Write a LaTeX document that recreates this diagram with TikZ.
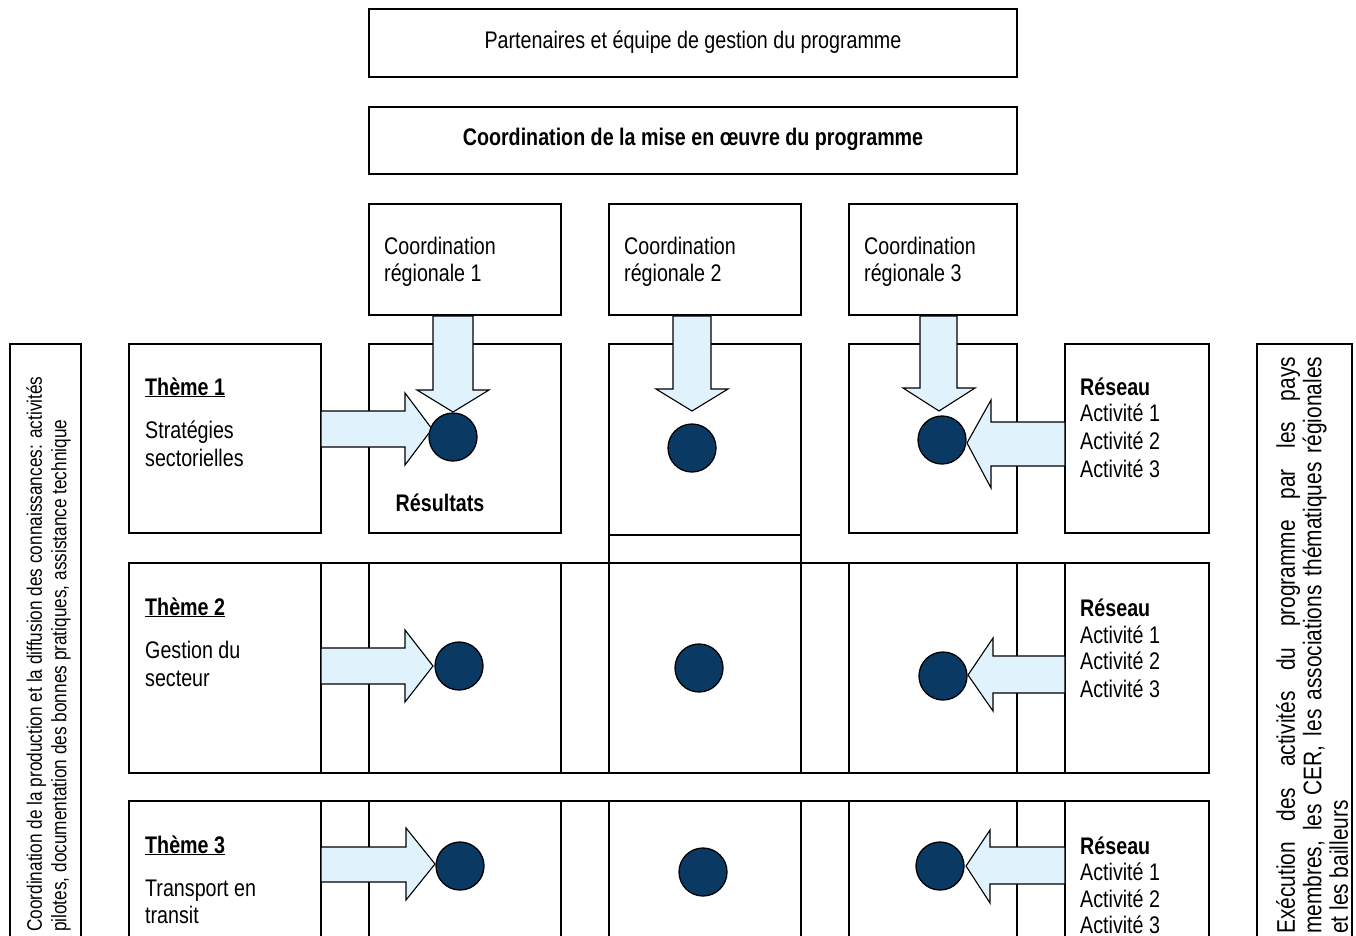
\documentclass[tikz,border=0pt]{standalone}
\usepackage{fontspec}
\setmainfont{Liberation Sans}[FakeStretch=0.82]
\definecolor{arrowfill}{RGB}{224,242,252}
\definecolor{dotfill}{RGB}{10,58,100}
\begin{document}
\begin{tikzpicture}[x=1pt,y=-1pt,
  frame/.style={draw, line width=1.7pt, inner sep=0pt},
  blk/.style={draw=black, line width=1.1pt, fill=arrowfill, line join=miter},
  dot/.style={circle, draw=black, line width=1.3pt, fill=dotfill, minimum size=48pt, inner sep=0pt},
  lbl/.style={font=\fontsize{24}{27}\selectfont, inner sep=0pt, anchor=base west},
]
\useasboundingbox (0,0) rectangle (1356,936);
\clip (0,0) rectangle (1356,936);

% top boxes
\node[frame, minimum width=648pt, minimum height=68pt] (top) at (693,43) {};
\node[frame, minimum width=648pt, minimum height=67pt] (coord) at (693,140.5) {};
\node[frame, minimum width=192pt, minimum height=111pt] (reg1) at (465,259.5) {};
\node[frame, minimum width=192pt, minimum height=111pt] (reg2) at (705,259.5) {};
\node[frame, minimum width=168pt, minimum height=111pt] (reg3) at (933,259.5) {};

% row 1
\node[frame, minimum width=192pt, minimum height=189pt] (th1) at (225,438.5) {};
\node[frame, minimum width=192pt, minimum height=189pt] (col1) at (465,438.5) {};
\node[frame, minimum width=192pt, minimum height=219pt] (col2) at (705,453.5) {};
\draw[line width=1.7pt] (col2.west |- 0,535) -- (col2.east |- 0,535);
\node[frame, minimum width=168pt, minimum height=189pt] (col3) at (933,438.5) {};
\node[frame, minimum width=144pt, minimum height=189pt] (res1) at (1137,438.5) {};

% rows 2 and 3
\node[frame, minimum width=1080pt, minimum height=210pt] (row2) at (669,668) {};
\node[frame, minimum width=1080pt, minimum height=210pt] (row3) at (669,906) {};
\foreach \x in {321,369,561,609,801,849,1017,1065}{
  \draw[line width=1.7pt] (\x,563) -- (\x,773);
  \draw[line width=1.7pt] (\x,801) -- (\x,1011);
}

% side boxes
\node[frame, minimum width=71pt, minimum height=656pt] (left) at (45.5,672) {};
\node[frame, minimum width=95pt, minimum height=656pt] (right) at (1304.5,672) {};

% block arrows, down
\draw[blk] (433,316) -- (473,316) -- (473,390) -- (489,390) -- (453,412) -- (417,390) -- (433,390) -- cycle;
\draw[blk] (673,316) -- (711,316) -- (711,389) -- (728,389) -- (692,411) -- (656,389) -- (673,389) -- cycle;
\draw[blk] (920,316) -- (957,316) -- (957,388) -- (975,388) -- (939,411) -- (903,388) -- (920,388) -- cycle;
% block arrows, right
\draw[blk] (321,411) -- (405,411) -- (405,393) -- (432,429) -- (405,465) -- (405,447) -- (321,447) -- cycle;
\draw[blk] (321,648) -- (405,648) -- (405,630) -- (433,666) -- (405,702) -- (405,684) -- (321,684) -- cycle;
\draw[blk] (321,847) -- (406,847) -- (406,828) -- (435,864) -- (406,900) -- (406,882) -- (321,882) -- cycle;
% block arrows, left
\draw[blk] (1065,422) -- (991,422) -- (991,400) -- (967,443) -- (991,488) -- (991,466) -- (1065,466) -- cycle;
\draw[blk] (1065,656) -- (993,656) -- (993,638) -- (968,675) -- (993,711) -- (993,693) -- (1065,693) -- cycle;
\draw[blk] (1065,847) -- (990,847) -- (990,830) -- (966,866) -- (990,903) -- (990,884) -- (1065,884) -- cycle;

% result dots
\node[dot] (c11) at (453,437) {};
\node[dot] (c12) at (692,448) {};
\node[dot] (c13) at (942,440) {};
\node[dot] (c21) at (459,666) {};
\node[dot] (c22) at (699,668) {};
\node[dot] (c23) at (943,676) {};
\node[dot] (c31) at (460,866) {};
\node[dot] (c32) at (703,872) {};
\node[dot] (c33) at (940,866) {};

% texts
\node[lbl, anchor=base] (ttop) at (693,49) {Partenaires et équipe de gestion du programme};
\node[lbl, anchor=base] (tcoord) at (693,146) {\bfseries Coordination de la mise en œuvre du programme};
\node[lbl] (r1a) at (384,254) {Coordination};
\node[lbl] (r1b) at (384,281) {régionale 1};
\node[lbl] (r2a) at (624,254) {Coordination};
\node[lbl] (r2b) at (624,281) {régionale 2};
\node[lbl] (r3a) at (864,254) {Coordination};
\node[lbl] (r3b) at (864,281) {régionale 3};

\node[lbl] (th1a) at (145,395) {\bfseries\underline{Thème 1}};
\node[lbl] (th1b) at (145,438) {Stratégies};
\node[lbl] (th1c) at (145,466) {sectorielles};
\node[lbl, anchor=base] (resu) at (440,511) {\bfseries Résultats};
\node[lbl] (rs1a) at (1080,395) {\bfseries Réseau};
\node[lbl] (rs1b) at (1080,421) {Activité 1};
\node[lbl] (rs1c) at (1080,449) {Activité 2};
\node[lbl] (rs1d) at (1080,477) {Activité 3};

\node[lbl] (th2a) at (145,615) {\bfseries\underline{Thème 2}};
\node[lbl] (th2b) at (145,658) {Gestion du};
\node[lbl] (th2c) at (145,686) {secteur};
\node[lbl] (rs2a) at (1080,616) {\bfseries Réseau};
\node[lbl] (rs2b) at (1080,643) {Activité 1};
\node[lbl] (rs2c) at (1080,669) {Activité 2};
\node[lbl] (rs2d) at (1080,697) {Activité 3};

\node[lbl] (th3a) at (145,853) {\bfseries\underline{Thème 3}};
\node[lbl] (th3b) at (145,896) {Transport en};
\node[lbl] (th3c) at (145,923) {transit};
\node[lbl] (rs3a) at (1080,854) {\bfseries Réseau};
\node[lbl] (rs3b) at (1080,880) {Activité 1};
\node[lbl] (rs3c) at (1080,907) {Activité 2};
\node[lbl] (rs3d) at (1080,933) {Activité 3};

% side texts
\node[inner sep=0pt, rotate=90, anchor=west, align=left,
      font=\fontsize{21}{24.5}\selectfont] (ltext) at (48.5,932)
  {Coordination de la production et la diffusion des connaissances: activités\\
   pilotes, documentation des bonnes pratiques, assistance technique};
\node[inner sep=0pt, rotate=90, anchor=west, text width=577pt, align=justify,
      font=\fontsize{25.5}{26.5}\selectfont] (rtext) at (1312,934)
  {Exécution des activités du programme par les pays\linebreak
   membres, les CER, les associations thématiques régionales\linebreak
   et les bailleurs};
\end{tikzpicture}
\end{document}
